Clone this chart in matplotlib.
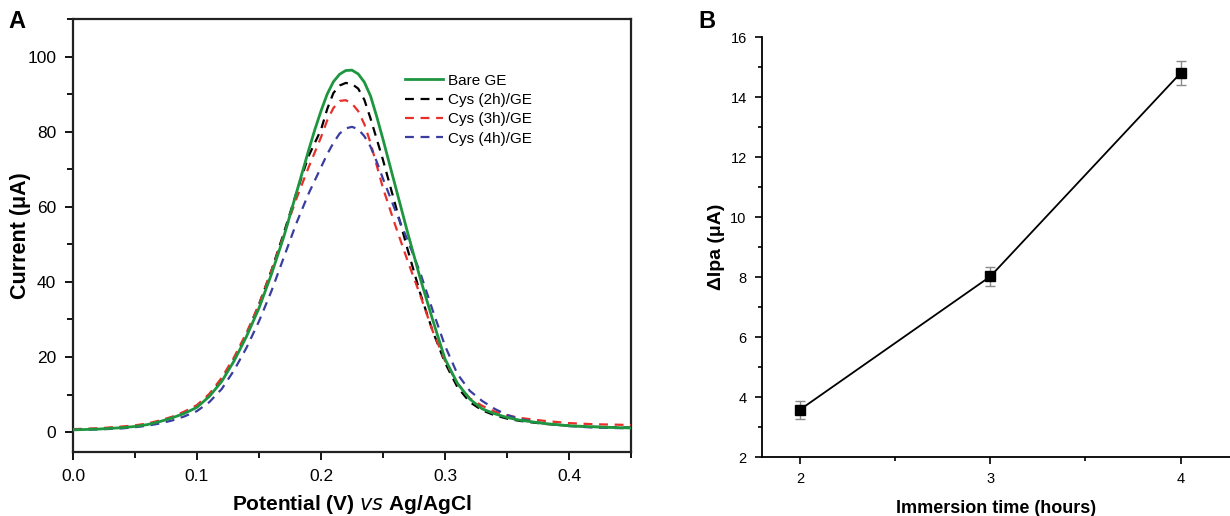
import numpy as np
import matplotlib
matplotlib.use("Agg")
import matplotlib.pyplot as plt
from matplotlib.ticker import MultipleLocator

plt.rcParams['font.family'] = ['Liberation Sans', 'DejaVu Sans']

# Panel A: DPV curves (potential in V, current in uA)
potential = [0.00, 0.02, 0.04, 0.05, 0.06, 0.07, 0.08, 0.09, 0.10, 0.11, 0.12, 0.13,
             0.14, 0.15, 0.16, 0.17, 0.18, 0.19, 0.195, 0.20, 0.205, 0.21, 0.215, 0.22,
             0.225, 0.23, 0.235, 0.24, 0.245, 0.25, 0.26, 0.27, 0.28, 0.29, 0.30, 0.31,
             0.32, 0.33, 0.34, 0.35, 0.36, 0.38, 0.40, 0.42, 0.45]
bare_ge = [0.6, 0.8, 1.2, 1.5, 2.0, 2.8, 3.8, 5.0, 6.6, 9.5, 13.5, 19,
           25.5, 33, 42, 52, 63.5, 75, 80.5, 85.5, 90, 93.3, 95.3, 96.3,
           96.4, 95.4, 93.2, 89.5, 84, 78, 65.5, 53, 41, 30, 19.5, 13,
           8.8, 6.2, 4.9, 3.9, 3.2, 2.3, 1.7, 1.4, 1.1]
cys_2h = [0.7, 0.9, 1.3, 1.6, 2.1, 2.9, 3.9, 5.2, 6.9, 9.8, 14, 19.5,
          26, 34, 43, 53, 63.5, 73.5, 77, 80.5, 86, 90.3, 92.3, 93,
          92.7, 91.5, 88.5, 83.5, 78, 72.5, 60.5, 48.5, 37, 27, 18.5, 12,
          8, 5.8, 4.5, 3.6, 3.0, 2.2, 1.7, 1.4, 1.2]
cys_3h = [0.8, 1.0, 1.5, 1.8, 2.3, 3.1, 4.1, 5.5, 7.2, 10.2, 14.5, 20,
          26.5, 34, 43, 52.5, 62, 70.5, 74.5, 78.5, 83, 86.3, 88.2, 88.4,
          87.5, 85.5, 82, 77, 71, 65, 55, 45.5, 36.5, 27, 19, 13,
          9, 7, 5.5, 4.5, 3.8, 3.0, 2.4, 2.1, 1.9]
cys_4h = [0.6, 0.7, 1.0, 1.3, 1.7, 2.3, 3.1, 4.2, 5.6, 8.0, 11.5, 16.5,
          22.5, 29.5, 37.5, 46.5, 55.5, 63.5, 67, 70.5, 74, 77, 79.5, 80.9,
          81.3, 80.7, 78.8, 76, 72, 67.5, 59, 51, 42.5, 32.5, 23, 15.5,
          11, 8.3, 6.2, 4.6, 3.5, 2.3, 1.6, 1.2, 1.0]

# Panel B: peak current change vs immersion time
hours = [2, 3, 4]
delta_ipa = [3.58, 8.02, 14.8]
delta_err = [0.30, 0.33, 0.40]

fig = plt.figure(figsize=(12.3, 5.16), dpi=100)

# ---- panel A ----
ax1 = fig.add_axes([0.0593, 0.124, 0.4537, 0.839])
ax1.plot(potential, cys_2h, color='black', ls=(0, (4, 3)), lw=1.6, label='Cys (2h)/GE', zorder=3)
ax1.plot(potential, cys_3h, color='#e8302a', ls=(0, (4, 3)), lw=1.6, label='Cys (3h)/GE', zorder=3)
ax1.plot(potential, cys_4h, color='#3a3da0', ls=(0, (4, 3)), lw=1.6, label='Cys (4h)/GE', zorder=3)
ax1.plot(potential, bare_ge, color='#1e9640', lw=2.0, label='Bare GE', zorder=4)
ax1.set_xlim(0, 0.45)
ax1.set_ylim(-5.3, 110)
ax1.xaxis.set_major_locator(MultipleLocator(0.1))
ax1.xaxis.set_minor_locator(MultipleLocator(0.05))
ax1.yaxis.set_major_locator(MultipleLocator(20))
ax1.yaxis.set_minor_locator(MultipleLocator(10))
ax1.set_xticks([0.0, 0.1, 0.2, 0.3, 0.4])
ax1.set_xticklabels(['0.0', '0.1', '0.2', '0.3', '0.4'])
ax1.tick_params(which='both', direction='out', labelsize=12.5, width=1.3)
ax1.tick_params(which='major', length=6, pad=6)
ax1.tick_params(which='minor', length=4)
ax1.tick_params(top=False, right=False)
for s in ax1.spines.values():
    s.set_linewidth(1.6)
    s.set_color('#222222')
ax1.set_xlabel('Potential (V) $\\bf{\\it{vs}}$ Ag/AgCl', fontsize=15, fontweight='bold', labelpad=7)
ax1.set_ylabel('Current (μA)', fontsize=15.5, fontweight='bold', labelpad=-3)
handles, labels = ax1.get_legend_handles_labels()
order = [3, 0, 1, 2]
ax1.legend([handles[i] for i in order], [labels[i] for i in order],
           loc='upper left', bbox_to_anchor=(0.57, 0.906), frameon=False,
           fontsize=11, handlelength=2.5, handletextpad=0.3, labelspacing=0.35)
fig.text(0.007, 0.945, 'A', fontsize=17, fontweight='bold')

# ---- panel B ----
ax2 = fig.add_axes([0.6195, 0.1143, 0.3805, 0.8137])
ax2.plot(hours, delta_ipa, color='black', lw=1.3, zorder=2)
ax2.errorbar(hours, delta_ipa, yerr=delta_err, fmt='none', ecolor='#8a8a8a',
             elinewidth=1.0, capsize=3.6, capthick=1.0, zorder=3)
ax2.plot(hours, delta_ipa, ls='none', marker='s', ms=6.5, color='black', zorder=4)
ax2.set_xlim(1.8, 4.26)
ax2.set_ylim(2, 16)
ax2.xaxis.set_major_locator(MultipleLocator(1))
ax2.xaxis.set_minor_locator(MultipleLocator(0.5))
ax2.yaxis.set_major_locator(MultipleLocator(2))
ax2.yaxis.set_minor_locator(MultipleLocator(1))
ax2.tick_params(which='both', direction='out', labelsize=10.5, width=1.2)
ax2.tick_params(which='major', length=5, pad=6)
ax2.tick_params(which='minor', length=3)
ax2.spines['top'].set_visible(False)
ax2.spines['right'].set_visible(False)
for s in ['left', 'bottom']:
    ax2.spines[s].set_linewidth(1.3)
ax2.set_xlabel('Immersion time (hours)', fontsize=13, fontweight='bold', labelpad=10)
ax2.set_ylabel('ΔIpa (μA)', fontsize=14, fontweight='bold', labelpad=4)
fig.text(0.568, 0.945, 'B', fontsize=17, fontweight='bold')

fig.savefig('out.png', dpi=100)
